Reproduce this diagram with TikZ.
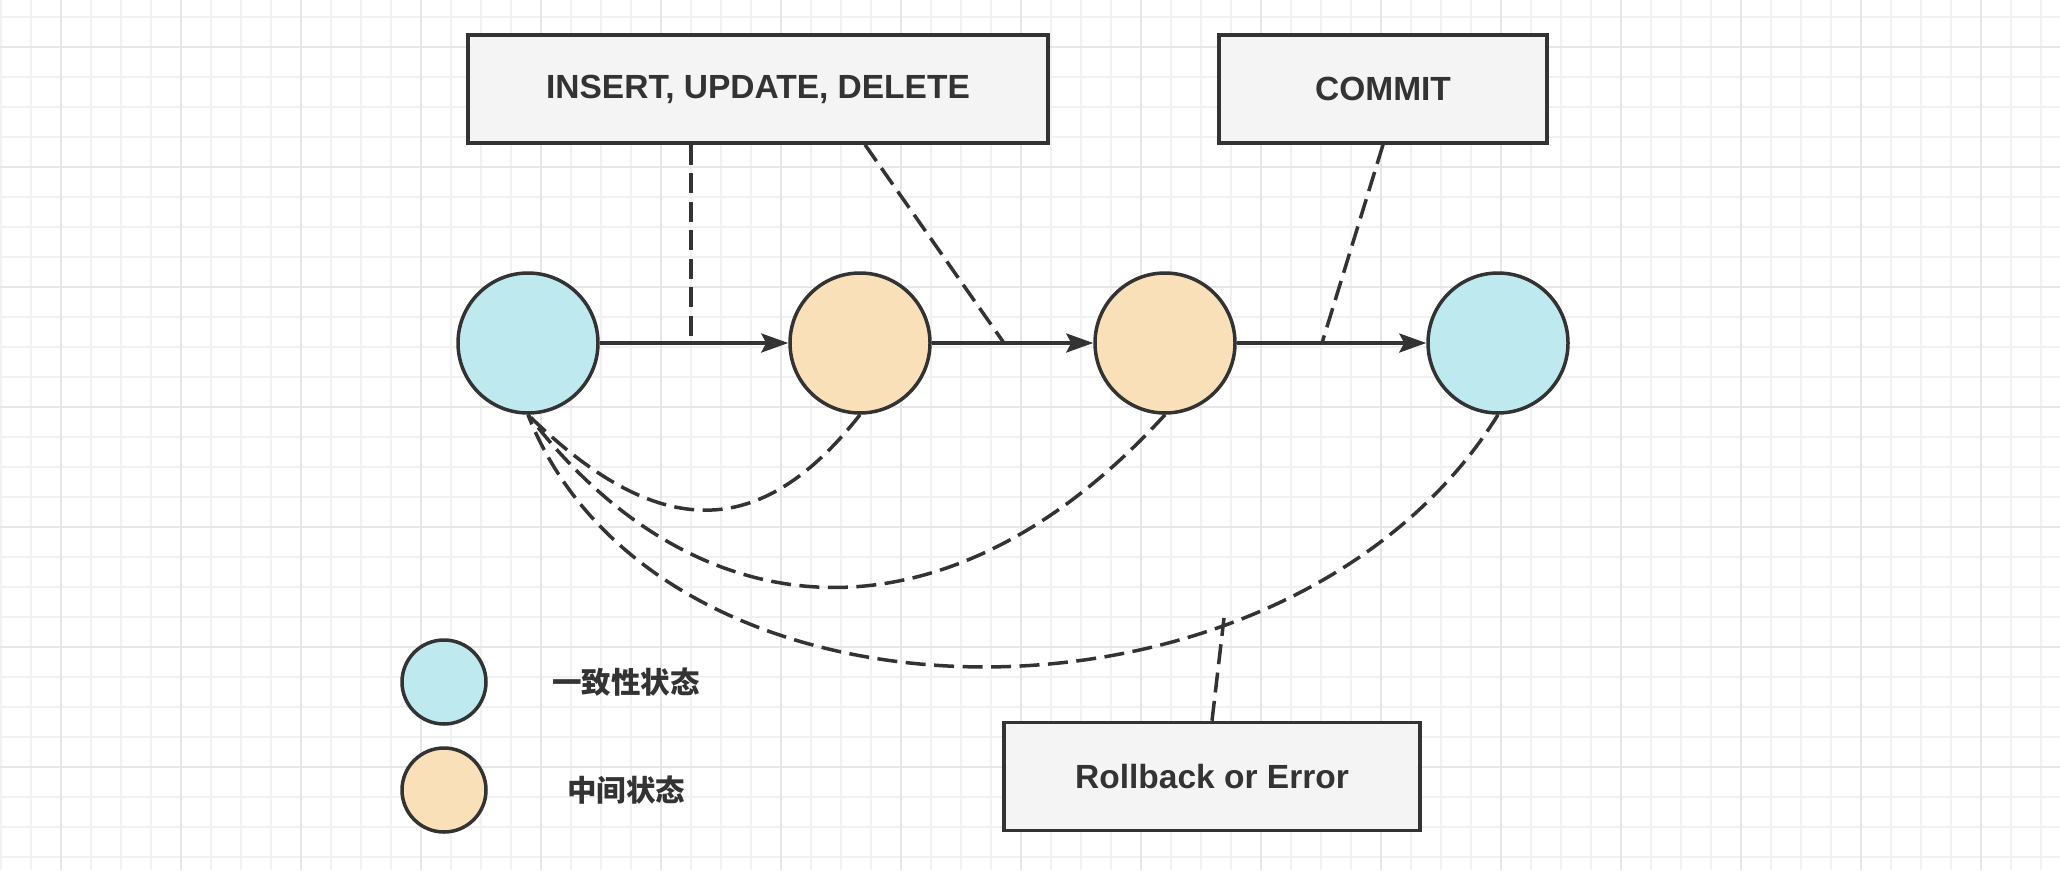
\documentclass[tikz,border=0pt]{standalone}
\usepackage{fontspec}
\setmainfont{Liberation Sans}
\newfontfamily\cjk{Noto Sans CJK SC}
\usetikzlibrary{arrows.meta}
\definecolor{ink}{HTML}{333333}
\definecolor{cyanfill}{HTML}{BDE9EF}
\definecolor{orangefill}{HTML}{F9E0B8}
\definecolor{boxfill}{HTML}{F4F4F4}
\definecolor{gridminor}{HTML}{F1F1F1}
\definecolor{gridmajor}{HTML}{E6E6E6}
\tikzset{
  minorline/.style={draw=gridminor, line width=1.6pt},
  majorline/.style={draw=gridmajor, line width=1.8pt},
  state/.style={circle, draw=ink, line width=3.5pt, minimum size=140pt, inner sep=0pt},
  legendstate/.style={circle, draw=ink, line width=3.5pt, minimum size=84pt, inner sep=0pt},
  opbox/.style={rectangle, draw=ink, fill=boxfill, line width=3.5pt, inner sep=0pt,
    minimum height=108pt, text=ink, font=\fontsize{33.5}{40}\selectfont\bfseries},
  legendtext/.style={text=ink, font=\cjk\bfseries\fontsize{29.5}{36}\selectfont},
  flow/.style={draw=ink, line width=3.5pt, -{Stealth[length=27pt, width=19pt, inset=5pt]}},
  dashline/.style={draw=ink, line width=3.5pt, dash pattern=on 20pt off 8.5pt}
}
\begin{document}
\begin{tikzpicture}[x=1pt, y=-1pt]
\useasboundingbox (0,0) rectangle (2060,870);
\fill[white] (0,0) rectangle (2060,870);
% grid
\foreach \i in {0,...,68} \draw[minorline] ({0.7+30*\i},0) -- ++(0,870);
\foreach \i in {0,...,28} \draw[minorline] (0,{16.7+30*\i}) -- ++(2060,0);
\foreach \i in {0,...,16} \draw[majorline] ({60.7+120*\i},0) -- ++(0,870);
\foreach \i in {0,...,6} \draw[majorline] (0,{46.7+120*\i}) -- ++(2060,0);

% operation boxes
\node[opbox, minimum width=580pt] (b1) at (758,89) {INSERT, UPDATE, DELETE};
\node[opbox, minimum width=328pt] (b2) at (1383,89) {COMMIT};
\node[opbox, minimum width=416pt] (rb) at (1212,776.5) {Rollback or Error};

% states
\node[state, fill=cyanfill] (c1) at (528,343) {};
\node[state, fill=orangefill] (c2) at (860,343) {};
\node[state, fill=orangefill] (c3) at (1165,343) {};
\node[state, fill=cyanfill] (c4) at (1498,343) {};

% solid transitions
\draw[flow] (c1) -- (c2);
\draw[flow] (c2) -- (c3);
\draw[flow] (c3) -- (c4);

% dashed links from operations
\coordinate (t1) at (691,339);
\coordinate (t2) at (1004,343);
\coordinate (t3) at (1322,343);
\coordinate (t4) at (1224,618);
\draw[dashline] (b1.south -| t1) -- (t1);
\draw[dashline] ([xshift=107pt]b1.south) -- (t2);
\draw[dashline] (b2.south) -- (t3);

% rollback curves
\draw[dashline] (c2.south) .. controls (760,542) and (658,542) .. (c1.south);
\draw[dashline] (c3.south) .. controls (950,650) and (700,640) .. (c1.south);
\draw[dashline] (c4.south) .. controls (1289,751) and (660,751) .. (c1.south);
\draw[dashline] (rb.north) -- (t4);

% legend
\node[legendstate, fill=cyanfill] (l1) at (444,682) {};
\node[legendstate, fill=orangefill] (l2) at (444,790) {};
\node[legendtext] (lt1) at (626,682) {一致性状态};
\node[legendtext] (lt2) at (626,790) {中间状态};
\end{tikzpicture}
\end{document}
